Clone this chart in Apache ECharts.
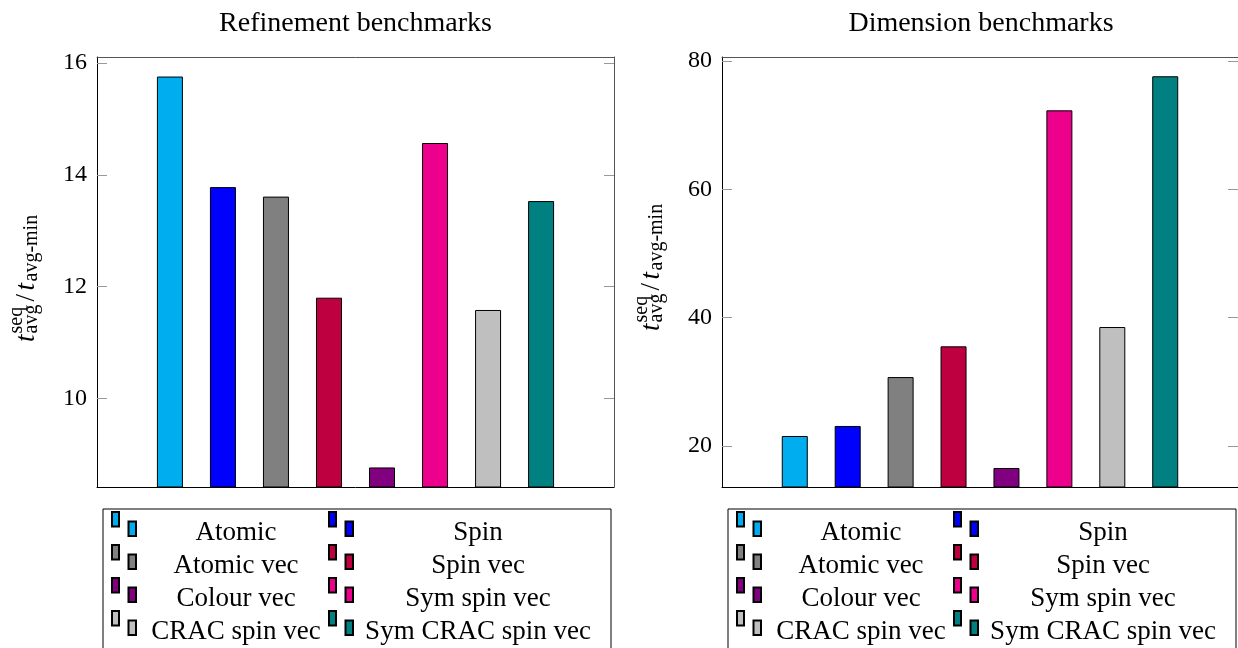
<!DOCTYPE html>
<html><head><meta charset="utf-8">
<script src="https://cdn.jsdelivr.net/npm/echarts@6/dist/echarts.min.js"></script>
<style>html,body{margin:0;padding:0;background:#fff}#c{width:1238px;height:648px}</style>
</head><body><div id="c"></div>
<script>
const categories = ['Atomic','Spin','Atomic vec','Spin vec','Colour vec','Sym spin vec','CRAC spin vec','Sym CRAC spin vec'];
const colors = ['#00AEEF','#0000FF','#808080','#BF0040','#800080','#EC008C','#BFBFBF','#008080'];
const refinementValues = [15.76, 13.78, 13.61, 11.80, 8.76, 14.57, 11.58, 13.53];
const dimensionValues = [21.56, 23.12, 30.74, 35.53, 16.57, 72.31, 38.54, 77.62];
const refinementTicks = [10, 12, 14, 16];
const dimensionTicks = [20, 40, 60, 80];
const titles = ['Refinement benchmarks', 'Dimension benchmarks'];

const F = 'Liberation Serif';
const panels = [
  {values: refinementValues, ticks: refinementTicks, ymin: 8.41, ymax: 16.11, left: 97, width: 517, legendLeft: 103, labelX: 36, labelY: 278},
  {values: dimensionValues, ticks: dimensionTicks, ymin: 13.61, ymax: 80.62, left: 722, width: 518, legendLeft: 728, labelX: 661, labelY: 267}
];
const XMIN = -1.375, XMAX = 8.375;

const grid = [], xAxis = [], yAxis = [], series = [], legend = [], title = [], graphic = [];
panels.forEach((p, k) => {
  grid.push({left: p.left, top: 57, width: p.width, height: 430});
  xAxis.push({type: 'value', gridIndex: k, min: XMIN, max: XMAX, position: 'bottom',
    axisLine: {show: true, onZero: false, lineStyle: {color: '#000', width: 1}},
    axisTick: {show: false}, axisLabel: {show: false}, splitLine: {show: false}});
  xAxis.push({type: 'value', gridIndex: k, min: XMIN, max: XMAX, position: 'top',
    axisLine: {show: true, onZero: false, lineStyle: {color: '#555', width: 1}},
    axisTick: {show: false}, axisLabel: {show: false}, splitLine: {show: false}});
  yAxis.push({type: 'value', gridIndex: k, min: p.ymin, max: p.ymax, position: 'left',
    axisLine: {show: true, onZero: false, lineStyle: {color: '#000', width: 1}},
    axisTick: {show: true, inside: true, length: 10, customValues: p.ticks, lineStyle: {color: '#999', width: 1}},
    axisLabel: {show: true, customValues: p.ticks, margin: 10, fontFamily: F, fontSize: 24, color: '#000'},
    splitLine: {show: false}});
  yAxis.push({type: 'value', gridIndex: k, min: p.ymin, max: p.ymax, position: 'right',
    axisLine: {show: true, onZero: false, lineStyle: {color: '#555', width: 1}},
    axisTick: {show: true, inside: true, length: 10, customValues: p.ticks, lineStyle: {color: '#999', width: 1}},
    axisLabel: {show: false}, splitLine: {show: false}});
  categories.forEach((name, i) => {
    series.push({type: 'bar', name: name, xAxisIndex: k * 2, yAxisIndex: k * 2,
      data: [[i, p.values[i]]], barWidth: 26, barGap: '-100%',
      itemStyle: {color: colors[i], borderColor: '#000', borderWidth: 1}});
  });
  title.push({text: titles[k], left: p.left + p.width / 2, top: 10, textAlign: 'center', padding: 0,
    textStyle: {fontFamily: F, fontSize: 28, fontWeight: 'normal', color: '#000'}});
  legend.push({data: categories, left: p.legendLeft, top: 509, width: 495, orient: 'horizontal',
    itemWidth: 24, itemHeight: 34, itemGap: -3, padding: [2, 13, 12, 8],
    icon: 'path://M0,0H7V14.5H0Z M16.5,9.5H24V24H16.5Z M0,34L0,34',
    borderColor: '#000', borderWidth: 1, selectedMode: false,
    formatter: function (name) { const i = categories.indexOf(name); return '{' + (i % 2 === 0 ? 'a' : 'b') + '|' + name + '}'; },
    textStyle: {fontFamily: F, fontSize: 27, color: '#000',
      rich: {
        a: {width: 190, align: 'center', lineHeight: 27, padding: [7, 0, 0, 0], fontFamily: F, fontSize: 27, color: '#000'},
        b: {width: 240, align: 'center', lineHeight: 27, padding: [7, 0, 0, 0], fontFamily: F, fontSize: 27, color: '#000'}
      }}});
  const base = {fontFamily: F, fill: '#000', align: 'left', verticalAlign: 'middle'};
  graphic.push({type: 'group', x: p.labelX, y: p.labelY, rotation: Math.PI / 2, children: [
    {type: 'text', x: -64, y: -9.2, style: Object.assign({text: 't', fontSize: 27, fontStyle: 'italic'}, base)},
    {type: 'text', x: -55.5, y: -19, style: Object.assign({text: 'seq', fontSize: 20}, base)},
    {type: 'text', x: -55.5, y: -3.8, style: Object.assign({text: 'avg', fontSize: 20}, base)},
    {type: 'text', x: -23.5, y: -9.2, style: Object.assign({text: '/', fontSize: 27}, base)},
    {type: 'text', x: -12.5, y: -9.2, style: Object.assign({text: 't', fontSize: 27, fontStyle: 'italic'}, base)},
    {type: 'text', x: -3.5, y: -3.8, style: Object.assign({text: 'avg-min', fontSize: 20}, base)}
  ]});
});

const chart = echarts.init(document.getElementById('c'), null, {renderer: 'canvas'});
chart.setOption({animation: false, backgroundColor: '#fff', title, grid, xAxis, yAxis, series, legend, graphic});
</script></body></html>
